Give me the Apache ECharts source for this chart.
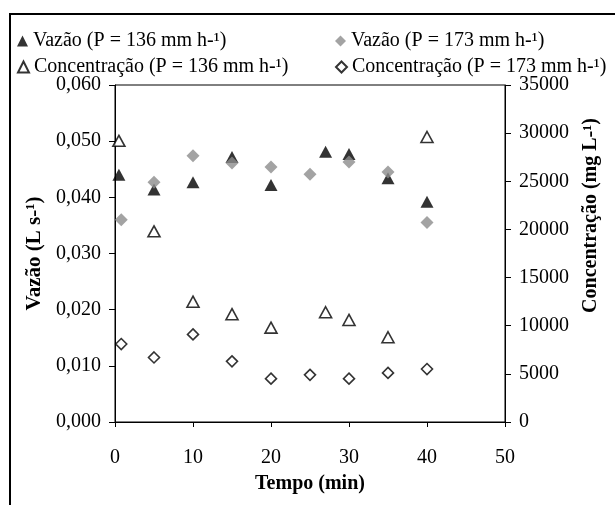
<!DOCTYPE html>
<html>
<head>
<meta charset="utf-8">
<script src="https://cdn.jsdelivr.net/npm/echarts@6/dist/echarts.min.js"></script>
<style>
  html, body { margin: 0; padding: 0; background: #fff; }
  #chart { width: 615px; height: 505px; }
</style>
</head>
<body>
<div id="chart"></div>
<script>
// tempos (min) de cada chuva
const tempo136 = [0.5, 5, 10, 15, 20, 27, 30, 35, 40]
const tempo173 = [0.8, 5, 10, 15, 20, 25, 30, 35, 40]

// vazão (L s-1)
const vazao136 = [0.0440, 0.0414, 0.0427, 0.0472, 0.0422, 0.0481, 0.0477, 0.0434, 0.0392]
const vazao173 = [0.0360, 0.0427, 0.0474, 0.0461, 0.0454, 0.0441, 0.0463, 0.0445, 0.0355]

// concentração (mg L-1)
const conc136 = [29200, 19800, 12500, 11200, 9800, 11400, 10600, 8800, 29600]
const conc173 = [8100, 6700, 9100, 6300, 4500, 4900, 4500, 5100, 5500]

const nomes = [
  'Vazão (P = 136 mm h-¹)',
  'Vazão (P = 173 mm h-¹)',
  'Concentração (P = 136 mm h-¹)',
  'Concentração (P = 173 mm h-¹)',
]

const fonte = '"Liberation Serif", "DejaVu Serif", serif'

const pares = (xs, ys) => xs.map((x, i) => [x, ys[i]])

const legenda = (nome, left, top) => ({
  data: [nome],
  left: left,
  top: top,
  padding: 0,
  itemWidth: 11,
  itemHeight: 11,
  textStyle: { fontFamily: fonte, fontSize: 20, color: '#000' },
})

const chart = echarts.init(document.getElementById('chart'))

const option = {
  backgroundColor: '#fff',
  animation: false,
  textStyle: { fontFamily: fonte },
  graphic: [
    {
      type: 'rect',
      shape: { x: 10, y: 14, width: 800, height: 700 },
      style: { fill: 'none', stroke: '#000', lineWidth: 2 },
      silent: true,
    },
  ],
  legend: [
    legenda(nomes[0], 17, 31),
    legenda(nomes[1], 335, 31),
    legenda(nomes[2], 17, 57),
    legenda(nomes[3], 335, 57),
  ],
  grid: {
    left: 115,
    right: 110,
    top: 85,
    bottom: 83,
    show: true,
    borderColor: '#000',
    borderWidth: 1,
    backgroundColor: '#fff',
  },
  xAxis: {
    type: 'value',
    min: 0,
    max: 50,
    interval: 10,
    name: 'Tempo (min)',
    nameLocation: 'middle',
    nameGap: 52,
    nameTextStyle: { fontFamily: fonte, fontSize: 20, fontWeight: 'bold', color: '#000' },
    axisLine: { show: true, lineStyle: { color: '#000', width: 1 } },
    axisTick: { show: true, length: 5, lineStyle: { color: '#000' } },
    axisLabel: { margin: 26, fontFamily: fonte, fontSize: 20, color: '#000' },
    splitLine: { show: false },
  },
  yAxis: [
    {
      type: 'value',
      position: 'left',
      min: 0,
      max: 0.06,
      interval: 0.01,
      name: 'Vazão (L s-¹)',
      nameLocation: 'middle',
      nameRotate: 90,
      nameGap: 63,
      nameTextStyle: { fontFamily: fonte, fontSize: 21, fontWeight: 'bold', color: '#000' },
      axisLine: { show: true, lineStyle: { color: '#000', width: 1 } },
      axisTick: { show: true, length: 6, lineStyle: { color: '#000' } },
      axisLabel: {
        margin: 14,
        fontFamily: fonte,
        fontSize: 20,
        color: '#000',
        formatter: (v) => v.toFixed(3).replace('.', ','),
      },
      splitLine: { show: false },
    },
    {
      type: 'value',
      position: 'right',
      min: 0,
      max: 35000,
      interval: 5000,
      name: 'Concentração (mg L-¹)',
      nameLocation: 'middle',
      nameRotate: 90,
      nameGap: 76,
      nameTextStyle: {
        fontFamily: fonte,
        fontSize: 20,
        fontWeight: 'bold',
        color: '#000',
        padding: [0, 0, 0, 76], // desloca o título para cima
      },
      axisLine: { show: true, lineStyle: { color: '#000', width: 1 } },
      axisTick: { show: true, length: 6, lineStyle: { color: '#000' } },
      axisLabel: {
        margin: 14,
        fontFamily: fonte,
        fontSize: 20,
        color: '#000',
        formatter: (v) => String(v),
      },
      splitLine: { show: false },
    },
  ],
  series: [
    {
      name: nomes[0],
      type: 'scatter',
      yAxisIndex: 0,
      symbol: 'triangle',
      symbolSize: [13, 12],
      itemStyle: { color: '#000' },
      data: pares(tempo136, vazao136),
    },
    {
      name: nomes[1],
      type: 'scatter',
      yAxisIndex: 0,
      symbol: 'diamond',
      symbolSize: [13, 13],
      itemStyle: { color: '#8c8c8c' },
      data: pares(tempo173, vazao173),
    },
    {
      name: nomes[2],
      type: 'scatter',
      yAxisIndex: 1,
      symbol: 'triangle',
      symbolSize: [12, 11],
      itemStyle: { color: '#fff', borderColor: '#000', borderWidth: 1.6 },
      data: pares(tempo136, conc136),
    },
    {
      name: nomes[3],
      type: 'scatter',
      yAxisIndex: 1,
      symbol: 'diamond',
      symbolSize: [11, 11],
      itemStyle: { color: '#fff', borderColor: '#000', borderWidth: 1.6 },
      data: pares(tempo173, conc173),
    },
  ],
}

chart.setOption(option)
</script>
</body>
</html>
